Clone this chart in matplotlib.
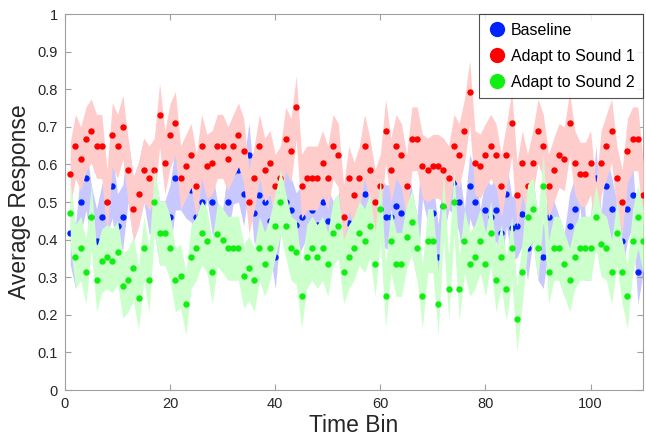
"""Average response per time bin for baseline and two adaptation conditions."""
import numpy as np
import matplotlib
matplotlib.use('Agg')
import matplotlib.pyplot as plt
from matplotlib.lines import Line2D

plt.rcParams['font.family'] = ['Liberation Sans', 'DejaVu Sans']

time_bins = np.arange(1, 111)

baseline = [
    0.418, 0.355, 0.501, 0.564, 0.461, 0.397, 0.461, 0.501, 0.542, 0.437,
    0.461, 0.585, 0.481, 0.521, 0.585, 0.500, 0.501, 0.418, 0.418, 0.461,
    0.564, 0.564, 0.542, 0.532, 0.461, 0.501, 0.595, 0.501, 0.414, 0.398,
    0.501, 0.580, 0.585, 0.521, 0.625, 0.470, 0.520, 0.501, 0.450, 0.355,
    0.501, 0.501, 0.480, 0.439, 0.460, 0.490, 0.480, 0.439, 0.501, 0.450,
    0.418, 0.437, 0.461, 0.443, 0.520, 0.418, 0.521, 0.437, 0.501, 0.481,
    0.461, 0.460, 0.490, 0.470, 0.542, 0.447, 0.377, 0.595, 0.530, 0.470,
    0.355, 0.490, 0.564, 0.554, 0.501, 0.397, 0.542, 0.501, 0.397, 0.480,
    0.460, 0.480, 0.418, 0.521, 0.430, 0.437, 0.469, 0.377, 0.481, 0.377,
    0.355, 0.461, 0.418, 0.377, 0.334, 0.437, 0.481, 0.574, 0.377, 0.377,
    0.564, 0.388, 0.542, 0.481, 0.418, 0.397, 0.481, 0.520, 0.314, 0.397,
]

adapt_sound1 = [
    0.574, 0.648, 0.615, 0.668, 0.689, 0.648, 0.648, 0.501, 0.679, 0.648,
    0.699, 0.585, 0.481, 0.521, 0.585, 0.564, 0.585, 0.731, 0.605, 0.677,
    0.709, 0.564, 0.595, 0.624, 0.542, 0.648, 0.595, 0.605, 0.648, 0.648,
    0.615, 0.648, 0.679, 0.637, 0.501, 0.564, 0.648, 0.585, 0.605, 0.542,
    0.564, 0.668, 0.637, 0.752, 0.542, 0.564, 0.564, 0.564, 0.605, 0.564,
    0.648, 0.624, 0.461, 0.564, 0.520, 0.564, 0.648, 0.585, 0.501, 0.542,
    0.689, 0.585, 0.648, 0.624, 0.542, 0.668, 0.668, 0.595, 0.585, 0.595,
    0.595, 0.585, 0.564, 0.648, 0.624, 0.689, 0.792, 0.605, 0.595, 0.624,
    0.648, 0.624, 0.542, 0.624, 0.709, 0.520, 0.605, 0.542, 0.605, 0.689,
    0.648, 0.542, 0.585, 0.624, 0.615, 0.709, 0.605, 0.574, 0.574, 0.605,
    0.461, 0.605, 0.648, 0.689, 0.564, 0.501, 0.637, 0.668, 0.668, 0.520,
]

adapt_sound2 = [
    0.471, 0.355, 0.377, 0.314, 0.461, 0.293, 0.344, 0.355, 0.344, 0.366,
    0.277, 0.292, 0.324, 0.246, 0.377, 0.293, 0.501, 0.418, 0.418, 0.377,
    0.293, 0.303, 0.230, 0.355, 0.377, 0.418, 0.397, 0.314, 0.414, 0.398,
    0.377, 0.377, 0.377, 0.303, 0.324, 0.293, 0.377, 0.334, 0.377, 0.437,
    0.501, 0.437, 0.377, 0.366, 0.250, 0.355, 0.377, 0.355, 0.377, 0.334,
    0.418, 0.437, 0.314, 0.355, 0.377, 0.418, 0.397, 0.437, 0.334, 0.481,
    0.250, 0.397, 0.334, 0.334, 0.408, 0.447, 0.377, 0.250, 0.397, 0.397,
    0.230, 0.490, 0.270, 0.501, 0.270, 0.397, 0.334, 0.355, 0.397, 0.334,
    0.418, 0.293, 0.355, 0.270, 0.377, 0.190, 0.314, 0.461, 0.481, 0.377,
    0.542, 0.314, 0.377, 0.377, 0.334, 0.293, 0.355, 0.377, 0.377, 0.377,
    0.461, 0.388, 0.377, 0.314, 0.418, 0.314, 0.250, 0.397, 0.461, 0.397,
]

# half-width of the shaded error band for each condition
band_width = {'Baseline': 0.085, 'Adapt to Sound 1': 0.085, 'Adapt to Sound 2': 0.085}

series = [
    ('Baseline', baseline, '#0022ff', '#c8c8ff'),
    ('Adapt to Sound 1', adapt_sound1, '#ff0000', '#ffcccc'),
    ('Adapt to Sound 2', adapt_sound2, '#11ee11', '#ccffcc'),
]

fig = plt.figure(figsize=(6.46, 4.41), dpi=100)
ax = fig.add_axes([0.1006, 0.1156, 0.895, 0.8526])

handles = []
for z, (name, vals, dot_color, band_color) in enumerate(series):
    vals = np.asarray(vals)
    err = band_width[name]
    ax.fill_between(time_bins, vals - err, vals + err, color=band_color,
                    linewidth=0, zorder=2 * z + 1)
    ax.plot(time_bins, vals, 'o', color=dot_color, markersize=4.6,
            markeredgewidth=0, zorder=2 * z + 2)
    handles.append(Line2D([], [], marker='o', linestyle='none', color=dot_color,
                          markersize=11, markeredgewidth=0, label=name))

ax.set_xlim(0, 110)
ax.set_ylim(0, 1)
ax.set_xticks([0, 20, 40, 60, 80, 100])
ax.set_yticks(np.arange(0, 1.01, 0.1))
ax.set_yticklabels(['0', '0.1', '0.2', '0.3', '0.4', '0.5', '0.6', '0.7', '0.8', '0.9', '1'])

for spine in ax.spines.values():
    spine.set_color('#a0a0a0')
    spine.set_linewidth(0.8)
ax.tick_params(direction='in', length=4, width=0.8, color='#a0a0a0',
               labelcolor='#262626', labelsize=10.5, top=True, right=True, pad=5)

ax.set_xlabel('Time Bin', fontsize=16.5, color='#262626', labelpad=2)
ax.set_ylabel('Average Response', fontsize=16.5, color='#262626', labelpad=5)

leg = ax.legend(handles=handles, loc='upper right', fontsize=11.5, frameon=True,
                fancybox=False, borderaxespad=0, handletextpad=0.3,
                handlelength=1.1, borderpad=0.55, labelspacing=0.68)
leg.get_frame().set_edgecolor('#262626')
leg.get_frame().set_linewidth(0.8)
leg.set_zorder(10)

fig.savefig('out.png', dpi=100)
